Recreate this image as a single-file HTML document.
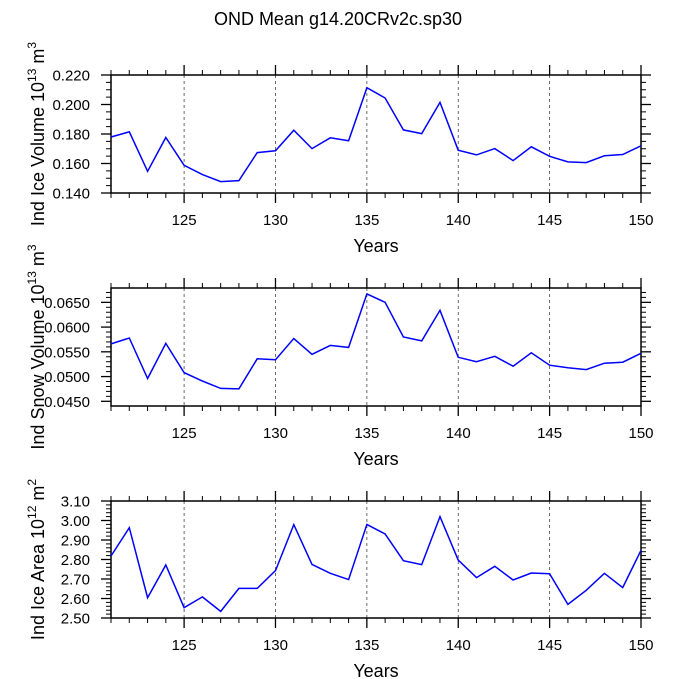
<!DOCTYPE html>
<html><head><meta charset="utf-8"><style>
html,body{margin:0;padding:0;background:#fff;}
svg{display:block;font-family:"Liberation Sans",Arial,sans-serif;}
</style></head><body>
<svg id="chart" width="678" height="679" viewBox="0 0 678 679" xmlns="http://www.w3.org/2000/svg">
<text x="338" y="25" font-size="18" text-anchor="middle">OND Mean g14.20CRv2c.sp30</text>
</svg>
<script>
const years = [121,122,123,124,125,126,127,128,129,130,131,132,133,134,135,136,137,138,139,140,141,142,143,144,145,146,147,148,149,150];
const iceVolume = [0.178,0.1815,0.1547,0.1776,0.1588,0.1525,0.1477,0.1484,0.1674,0.1686,0.1826,0.1701,0.1774,0.1754,0.2114,0.2044,0.1828,0.1803,0.2014,0.1690,0.1658,0.1701,0.1620,0.1713,0.1649,0.1611,0.1606,0.1652,0.1661,0.1720];
const snowVolume = [0.0566,0.0578,0.0496,0.0567,0.0508,0.0491,0.0476,0.0475,0.0536,0.0534,0.0577,0.0545,0.0563,0.0559,0.0667,0.0650,0.0580,0.0572,0.0634,0.0539,0.0530,0.0541,0.0521,0.0548,0.0523,0.0518,0.0514,0.0527,0.0529,0.0547];
const iceArea = [2.818,2.963,2.604,2.772,2.553,2.608,2.534,2.652,2.652,2.743,2.979,2.775,2.729,2.697,2.980,2.931,2.794,2.774,3.020,2.797,2.707,2.765,2.695,2.731,2.727,2.570,2.642,2.729,2.656,2.847];
const xTicks = [125,130,135,140,145,150];
const iceTicks = ["0.140","0.160","0.180","0.200","0.220"];
const snowTicks = ["0.0450","0.0500","0.0550","0.0600","0.0650"];
const areaTicks = ["2.50","2.60","2.70","2.80","2.90","3.00","3.10"];

const NS = "http://www.w3.org/2000/svg";
const svg = document.getElementById('chart');
const X0 = 111, X1 = 641;
function xs(v){ return X0 + (v - 121) / (150 - 121) * (X1 - X0); }
function mk(tag, attrs, parent){ const e = document.createElementNS(NS, tag); for (const k in attrs) e.setAttribute(k, attrs[k]); (parent||svg).appendChild(e); return e; }

function panel(cfg){
  const g = mk('g', {});
  
  
  const ys = v => cfg.yb - (v - cfg.ymin) / (cfg.ymax - cfg.ymin) * (cfg.yb - cfg.yt);
  xTicks.slice(0, -1).forEach(t => {
    const l = mk('line', {x1: xs(t), x2: xs(t), y1: cfg.yt, y2: cfg.yb, stroke: '#444', 'stroke-width': 0.8, 'stroke-dasharray': '3,3'}, g);
    
    
  });
  for (let y = 121; y <= 150; y++) {
    const major = y % 5 === 0;
    const len = major ? 10 : 5;
    mk('line', {x1: xs(y), x2: xs(y), y1: cfg.yt, y2: cfg.yt - len, stroke: '#000', 'stroke-width': major ? 1.3 : 1}, g);
    mk('line', {x1: xs(y), x2: xs(y), y1: cfg.yb, y2: cfg.yb + len, stroke: '#000', 'stroke-width': major ? 1.3 : 1}, g);
  }
  xTicks.forEach(t => {
    const tx = mk('text', {x: xs(t), y: cfg.yb + 32, 'font-size': 15, 'text-anchor': 'middle'}, g);
    tx.textContent = t;
    
    
  });
  const n = cfg.ticks.length;
  const step = (parseFloat(cfg.ticks[1]) - parseFloat(cfg.ticks[0]));
  const minorStep = step / cfg.minor;
  const start = parseFloat(cfg.ticks[0]);
  for (let k = -cfg.minor * 3; k <= (n - 1) * cfg.minor + cfg.minor * 3; k++) {
    const v = start + k * minorStep;
    if (v < cfg.ymin - 1e-9 || v > cfg.ymax + 1e-9) continue;
    const major = k % cfg.minor === 0 && k >= 0 && k <= (n - 1) * cfg.minor;
    const len = major ? 10 : 5;
    mk('line', {x1: X0, x2: X0 - len, y1: ys(v), y2: ys(v), stroke: '#000', 'stroke-width': major ? 1.3 : 1}, g);
    mk('line', {x1: X1, x2: X1 + len, y1: ys(v), y2: ys(v), stroke: '#000', 'stroke-width': major ? 1.3 : 1}, g);
  }
  cfg.ticks.forEach(t => {
    const tx = mk('text', {x: 90, y: ys(parseFloat(t)) + 5.5, 'font-size': 15, 'text-anchor': 'end'}, g);
    tx.textContent = t;
    
    
  });
  const fr = mk('rect', {x: X0, y: cfg.yt, width: X1 - X0, height: cfg.yb - cfg.yt, fill: 'none', stroke: '#000', 'stroke-width': 1.5}, g);
  
  
  const pts = years.map((y, i) => xs(y).toFixed(1) + ',' + ys(cfg.data[i]).toFixed(1)).join(' ');
  const pl = mk('polyline', {points: pts, fill: 'none', stroke: '#0000ff', 'stroke-width': 1.5}, g);
  
  
  const xt = mk('text', {x: (X0 + X1) / 2, y: cfg.yb + 59, 'font-size': 18, 'text-anchor': 'middle'}, g);
  xt.textContent = 'Years';
  
  
  const cy = (cfg.yt + cfg.yb) / 2;
  const yt = mk('text', {x: 0, y: 0, 'font-size': 18, 'text-anchor': 'middle', transform: 'translate(44,' + cy + ') rotate(-90)'}, g);
  
  
  yt.innerHTML = cfg.title + ' 10<tspan font-size="12" dy="-8">' + cfg.exp + '</tspan><tspan dy="8"> m</tspan><tspan font-size="12" dy="-8">' + cfg.unit + '</tspan><tspan dy="8"></tspan>';
}

panel({name: 'ice-volume-panel', yt: 75, yb: 193, ymin: 0.140, ymax: 0.220, ticks: iceTicks, minor: 4, data: iceVolume, title: 'Ind Ice Volume', exp: '13', unit: '3'});
panel({name: 'snow-volume-panel', yt: 288, yb: 406, ymin: 0.04405, ymax: 0.0679, ticks: snowTicks, minor: 5, data: snowVolume, title: 'Ind Snow Volume', exp: '13', unit: '3'});
panel({name: 'ice-area-panel', yt: 501, yb: 618, ymin: 2.50, ymax: 3.10, ticks: areaTicks, minor: 5, data: iceArea, title: 'Ind Ice Area', exp: '12', unit: '2'});
</script>
</body></html>
